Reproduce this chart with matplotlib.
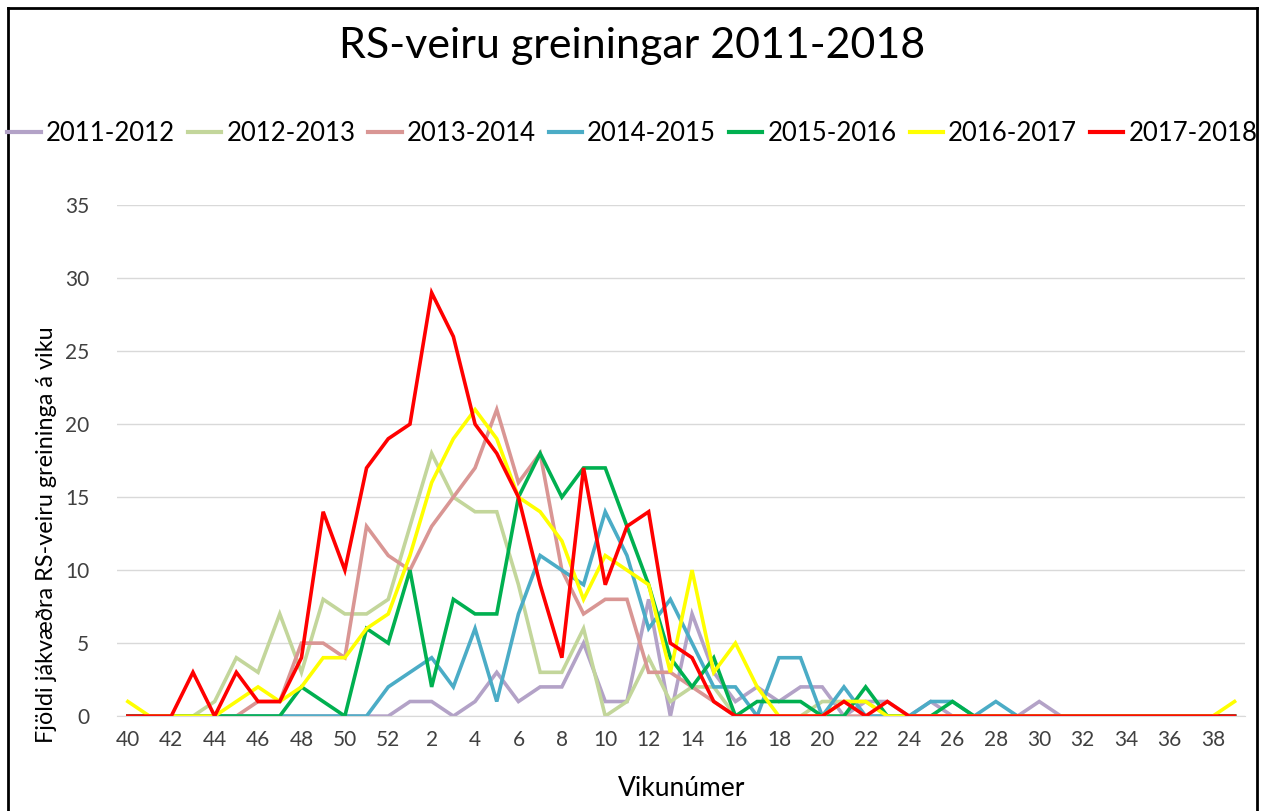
import matplotlib
matplotlib.use("Agg")
import matplotlib.pyplot as plt
from matplotlib.lines import Line2D

plt.rcParams['font.family'] = ['Lato', 'DejaVu Sans']

weeks = list(range(40, 53)) + list(range(1, 40))
tick_weeks = [w for w in weeks if w % 2 == 0]

s2011 = [0,0,0,0,0,0,0,0,0,0,0,0,0,
         1,1,0,1,3,1,2,2,5,1,1,8,0,7,3,1,2,1,2,2,0,1,1,0,1,0,0,0,0,1,0,0,0,0,0,0,0,0,0]
s2012 = [0,0,0,0,1,4,3,7,3,8,7,7,8,
         13,18,15,14,14,9,3,3,6,0,1,4,1,2,2,0,0,0,0,1,1,1,0,0,0,0,0,0,0,0,0,0,0,0,0,0,0,0,0]
s2013 = [0,0,0,0,0,0,1,1,5,5,4,13,11,
         10,13,15,17,21,16,18,10,7,8,8,3,3,2,1,0,0,0,0,0,0,0,0,0,0,0,0,0,0,0,0,0,0,0,0,0,0,0,0]
s2014 = [0,0,0,0,0,0,0,0,0,0,0,0,2,
         3,4,2,6,1,7,11,10,9,14,11,6,8,5,2,2,0,4,4,0,2,0,0,0,1,1,0,1,0,0,0,0,0,0,0,0,0,0,0]
s2015 = [0,0,0,0,0,0,0,0,2,1,0,6,5,
         10,2,8,7,7,15,18,15,17,17,13,9,4,2,4,0,1,1,1,0,0,2,0,0,0,1,0,0,0,0,0,0,0,0,0,0,0,0,0]
s2016 = [1,0,0,0,0,1,2,1,2,4,4,6,7,
         11,16,19,21,19,15,14,12,8,11,10,9,3,10,3,5,2,0,0,0,1,1,0,0,0,0,0,0,0,0,0,0,0,0,0,0,0,0,1]
s2017 = [0,0,0,3,0,3,1,1,4,14,10,17,19,
         20,29,26,20,18,15,9,4,17,9,13,14,5,4,1,0,0,0,0,0,1,0,1,0,0,0,0,0,0,0,0,0,0,0,0,0,0,0,0]

series = [
    ("2011-2012", s2011, "#B3A2C7"),
    ("2012-2013", s2012, "#C3D69B"),
    ("2013-2014", s2013, "#D99694"),
    ("2014-2015", s2014, "#4BACC6"),
    ("2015-2016", s2015, "#00B050"),
    ("2016-2017", s2016, "#FFFF00"),
    ("2017-2018", s2017, "#FF0000"),
]

fig = plt.figure(figsize=(12.65, 8.11), dpi=100)
ax = fig.add_axes([0.0925, 0.117, 0.892, 0.630])

x = list(range(len(weeks)))
for name, vals, col in series:
    ax.plot(x, vals, color=col, lw=2.6, label=name, solid_joinstyle='miter')

ax.set_xlim(-0.5, len(weeks) - 0.5)
ax.set_ylim(0, 35)
ax.set_yticks(range(0, 36, 5))
ax.set_xticks([i for i, w in enumerate(weeks) if w % 2 == 0])
ax.set_xticklabels([str(w) for w in weeks if w % 2 == 0])
ax.tick_params(axis='both', length=0, labelsize=15, colors='#404040', pad=10)
ax.tick_params(axis='y', pad=20)
ax.grid(axis='y', color='#D9D9D9', lw=1)
ax.set_axisbelow(True)
for sp in ['left', 'right', 'top']:
    ax.spines[sp].set_visible(False)
ax.spines['bottom'].set_color('#D9D9D9')

ax.set_xlabel("Vikunúmer", fontsize=19)
ax.xaxis.set_label_coords(0.5, -0.118)
ax.set_ylabel("Fjöldi jákvæðra RS-veiru greininga á viku", fontsize=16.8)
ax.yaxis.set_label_coords(-0.053, 0.355)

fig.text(0.5, 0.943, "RS-veiru greiningar 2011-2018", ha='center', va='center', fontsize=31)

handles = [Line2D([0], [0], color=c, lw=3) for _, _, c in series]
fig.legend(handles, [n for n, _, _ in series], loc='center', bbox_to_anchor=(0.5, 0.836),
           ncol=7, frameon=False, fontsize=18.5, handlelength=1.3, handletextpad=0.2,
           columnspacing=0.5, borderaxespad=0)

# outer border
for xs, ys in [([0.006, 0.006], [0, 0.99]), ([0.006, 0.994], [0.99, 0.99]), ([0.994, 0.994], [0, 0.99])]:
    fig.add_artist(Line2D(xs, ys, color='black', lw=2, transform=fig.transFigure))

fig.savefig("out.png", dpi=100)
